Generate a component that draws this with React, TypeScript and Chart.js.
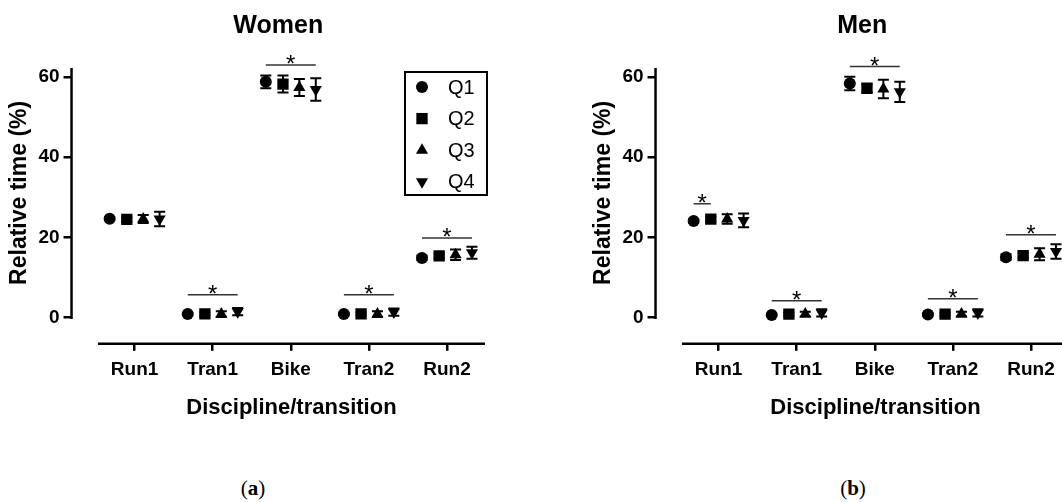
import React, { useEffect, useRef } from 'react';
import { Chart, registerables } from 'chart.js';
import { drawPoint } from 'chart.js/helpers';

Chart.register(...registerables);

// ---------- data ----------
const categories = ['Run1', 'Tran1', 'Bike', 'Tran2', 'Run2'];
const seriesLabels = ['Q1', 'Q2', 'Q3', 'Q4'];
const yTicks = [0, 20, 40, 60];
const xAxisTitle = 'Discipline/transition';
const yAxisTitle = 'Relative time (%)';

const womenQ1 = [24.7, 0.9, 58.8, 0.9, 14.9];
const womenQ1Err = [0.4, 0.3, 1.6, 0.3, 0.6];
const womenQ2 = [24.5, 0.95, 58.25, 0.95, 15.4];
const womenQ2Err = [0.5, 0.4, 2.1, 0.4, 0.5];
const womenQ3 = [24.6, 0.9, 57.4, 0.9, 15.7];
const womenQ3Err = [1.0, 0.7, 2.1, 0.7, 1.3];
const womenQ4 = [24.6, 1.5, 56.9, 1.4, 16.2];
const womenQ4Err = [1.8, 0.9, 2.8, 0.9, 1.5];

const menQ1 = [24.1, 0.7, 58.4, 0.8, 15.1];
const menQ1Err = [0.5, 0.3, 1.7, 0.3, 0.7];
const menQ2 = [24.6, 0.9, 57.2, 0.9, 15.5];
const menQ2Err = [0.6, 0.4, 1.0, 0.4, 0.6];
const menQ3 = [24.6, 0.9, 57.0, 0.9, 15.8];
const menQ3Err = [1.2, 0.6, 2.3, 0.6, 1.5];
const menQ4 = [24.25, 1.2, 56.3, 1.2, 16.5];
const menQ4Err = [1.7, 0.9, 2.5, 0.9, 1.8];

// significance bars: category index, first / last series spanned, height (%)
const womenSigCat = [1, 2, 3, 4];
const womenSigFrom = [0, 0, 0, 0];
const womenSigTo = [3, 3, 3, 3];
const womenSigY = [5.75, 63, 5.75, 19.9];

const menSigCat = [0, 1, 2, 3, 4];
const menSigFrom = [0, 0, 0, 0, 0];
const menSigTo = [1, 3, 3, 3, 3];
const menSigY = [28.4, 4.25, 62.6, 4.7, 20.7];

// ---------- styling ----------
const FONT = "'Liberation Sans', Arial, sans-serif";
const seriesOffsets = [-0.32, -0.1, 0.11, 0.32];
const pointStyles = ['circle', 'rect', 'triangle', 'triangle'];
const pointRotations = [0, 0, 0, 180];
const pointRadii = [6, 8, 7, 7];

const errorBarsPlugin = {
  id: 'errorBars',
  afterDatasetsDraw(chart: any) {
    const { ctx } = chart;
    const yScale = chart.scales.y;
    ctx.save();
    ctx.strokeStyle = '#000';
    ctx.lineWidth = 2;
    chart.data.datasets.forEach((ds: any, di: number) => {
      const meta = chart.getDatasetMeta(di);
      meta.data.forEach((el: any, i: number) => {
        const v = ds.data[i].y;
        const e = ds.errors[i];
        const yTop = yScale.getPixelForValue(v + e);
        const yBot = yScale.getPixelForValue(v - e);
        const cap = 5.5;
        ctx.beginPath();
        ctx.moveTo(el.x, yTop);
        ctx.lineTo(el.x, yBot);
        ctx.moveTo(el.x - cap, yTop);
        ctx.lineTo(el.x + cap, yTop);
        ctx.moveTo(el.x - cap, yBot);
        ctx.lineTo(el.x + cap, yBot);
        ctx.stroke();
      });
    });
    ctx.restore();
  },
};

const sigPlugin = {
  id: 'sigBars',
  afterDraw(chart: any, _args: any, opts: any) {
    const { ctx } = chart;
    const xs = chart.scales.x;
    const ys = chart.scales.y;
    const cats = opts.cat || [];
    ctx.save();
    for (let k = 0; k < cats.length; k++) {
      const c = cats[k] + 1;
      const x1 = xs.getPixelForValue(c + seriesOffsets[opts.from[k]]);
      const x2 = xs.getPixelForValue(c + seriesOffsets[opts.to[k]]);
      const y = ys.getPixelForValue(opts.y[k]);
      ctx.strokeStyle = '#333';
      ctx.lineWidth = 1.5;
      ctx.beginPath();
      ctx.moveTo(x1, y);
      ctx.lineTo(x2, y);
      ctx.stroke();
      ctx.fillStyle = '#000';
      ctx.font = `normal 24px ${FONT}`;
      ctx.textAlign = 'center';
      ctx.textBaseline = 'alphabetic';
      ctx.fillText('*', (x1 + x2) / 2, y + 7);
    }
    ctx.restore();
  },
};

const axisLinesPlugin = {
  id: 'axisLines',
  afterDraw(chart: any, _args: any, opts: any) {
    const { ctx, chartArea } = chart;
    const xs = chart.scales.x;
    const ys = chart.scales.y;
    const y0 = ys.getPixelForValue(0);
    const xStartPx = xs.getPixelForValue(opts.xStart);
    ctx.save();
    ctx.strokeStyle = '#000';
    ctx.lineWidth = 2.5;
    ctx.beginPath();
    ctx.moveTo(chartArea.left, y0 + 1.25);
    ctx.lineTo(chartArea.left, chartArea.top);
    ctx.stroke();
    ctx.beginPath();
    ctx.moveTo(xStartPx, chartArea.bottom);
    ctx.lineTo(chartArea.right, chartArea.bottom);
    ctx.stroke();
    ctx.fillStyle = '#000';
    ctx.textAlign = 'center';
    ctx.textBaseline = 'middle';
    // panel title, centred over the plot area
    ctx.font = `bold 25px ${FONT}`;
    ctx.fillText(opts.title, (chartArea.left + chartArea.right) / 2, opts.titleY);
    // x axis title, centred on the drawn x axis line
    ctx.font = `bold 22px ${FONT}`;
    ctx.fillText(opts.xTitle, (xStartPx + chartArea.right) / 2, opts.xTitleY);
    // y axis title, centred on the drawn y axis line
    ctx.translate(opts.yTitleX, (y0 + chartArea.top) / 2);
    ctx.rotate(-Math.PI / 2);
    ctx.font = `bold 23px ${FONT}`;
    ctx.fillText(opts.yTitle, 0, 0);
    ctx.restore();
  },
};

const boxLegendPlugin = {
  id: 'boxLegend',
  afterDraw(chart: any, _args: any, opts: any) {
    if (!opts.show) return;
    const { ctx, chartArea } = chart;
    const w = 82;
    const h = 123;
    const left = chartArea.right + 2 - w;
    const top = chartArea.top + 4;
    ctx.save();
    ctx.strokeStyle = '#000';
    ctx.lineWidth = 2;
    ctx.strokeRect(left, top, w, h);
    chart.data.datasets.forEach((ds: any, i: number) => {
      const cy = top + 15 + i * 31.6;
      ctx.fillStyle = '#000';
      ctx.strokeStyle = '#000';
      ctx.lineWidth = 0;
      drawPoint(ctx, { pointStyle: ds.pointStyle, rotation: ds.rotation, radius: ds.pointRadius, borderWidth: 0 }, left + 17, cy);
      ctx.fillStyle = '#000';
      ctx.font = `normal 20px ${FONT}`;
      ctx.textAlign = 'left';
      ctx.textBaseline = 'middle';
      ctx.fillText(ds.label, left + 43, cy + 1);
    });
    ctx.restore();
  },
};

function makeConfig(
  title: string,
  values: number[][],
  errs: number[][],
  sig: { cat: number[]; from: number[]; to: number[]; y: number[] },
  showLegend: boolean
): any {
  return {
    type: 'scatter',
    data: {
      datasets: seriesLabels.map((label, s) => ({
        label,
        data: values[s].map((v, i) => ({ x: i + 1 + seriesOffsets[s], y: v })),
        errors: errs[s],
        pointStyle: pointStyles[s],
        rotation: pointRotations[s],
        pointRadius: pointRadii[s],
        pointHoverRadius: pointRadii[s],
        pointBorderWidth: 0,
        borderWidth: 0,
        backgroundColor: '#000',
        borderColor: '#000',
        showLine: false,
      })),
    },
    options: {
      responsive: false,
      animation: false,
      events: [],
      layout: { padding: { left: 34.4, right: 73, top: 68, bottom: 52.4 } },
      plugins: {
        legend: { display: false },
        tooltip: { enabled: false },
        title: { display: false },
        sigBars: sig,
        axisLines: {
          xStart: 0.53,
          yTitle: yAxisTitle,
          yTitleX: 20,
          xTitle: xAxisTitle,
          xTitleY: 408,
          title,
          titleY: 26,
        },
        boxLegend: { show: showLegend },
      },
      scales: {
        x: {
          type: 'linear',
          min: 0.1923,
          max: 5.487,
          afterBuildTicks: (axis: any) => {
            axis.ticks = categories.map((_, i) => ({ value: i + 1 }));
          },
          ticks: {
            callback: (v: any) => categories[Math.round(v) - 1] ?? '',
            color: '#000',
            font: { family: FONT, size: 19, weight: 'bold' },
            padding: 8,
            maxRotation: 0,
            autoSkip: false,
          },
          grid: { display: true, drawOnChartArea: false, drawTicks: true, tickLength: 7, color: '#000', lineWidth: 2.5 },
          border: { display: false },
          title: { display: false },
        },
        y: {
          type: 'linear',
          min: -6.5,
          max: 62.25,
          afterBuildTicks: (axis: any) => {
            axis.ticks = yTicks.map((v) => ({ value: v }));
          },
          ticks: {
            color: '#000',
            font: { family: FONT, size: 19, weight: 'bold' },
            padding: 4,
          },
          grid: { display: true, drawOnChartArea: false, drawTicks: true, tickLength: 8, color: '#000', lineWidth: 2.5 },
          border: { display: false },
          title: { display: false },
        },
      },
    },
    plugins: [errorBarsPlugin, sigPlugin, axisLinesPlugin, boxLegendPlugin],
  };
}

function Panel(props: { config: any; left: number }) {
  const ref = useRef<HTMLCanvasElement | null>(null);
  useEffect(() => {
    if (!ref.current) return;
    const chart = new Chart(ref.current, props.config);
    return () => chart.destroy();
  }, []);
  return (
    <canvas
      ref={ref}
      width={558}
      height={442}
      style={{ position: 'absolute', left: props.left, top: 0, width: 558, height: 442 }}
    />
  );
}

const captionStyle: React.CSSProperties = {
  position: 'absolute',
  top: 475,
  width: 100,
  textAlign: 'center',
  fontFamily: "'Liberation Serif', 'DejaVu Serif', serif",
  fontSize: 21,
  lineHeight: '26px',
  color: '#000',
};

export default function App() {
  const womenConfig = makeConfig(
    'Women',
    [womenQ1, womenQ2, womenQ3, womenQ4],
    [womenQ1Err, womenQ2Err, womenQ3Err, womenQ4Err],
    { cat: womenSigCat, from: womenSigFrom, to: womenSigTo, y: womenSigY },
    true
  );
  const menConfig = makeConfig(
    'Men',
    [menQ1, menQ2, menQ3, menQ4],
    [menQ1Err, menQ2Err, menQ3Err, menQ4Err],
    { cat: menSigCat, from: menSigFrom, to: menSigTo, y: menSigY },
    false
  );
  return (
    <div
      style={{
        position: 'absolute',
        left: 0,
        top: 0,
        width: 1062,
        height: 502,
        overflow: 'hidden',
        background: '#fff',
      }}
    >
      <Panel config={womenConfig} left={0} />
      <Panel config={menConfig} left={584} />
      <div style={{ ...captionStyle, left: 203 }}>
        (<b>a</b>)
      </div>
      <div style={{ ...captionStyle, left: 803 }}>
        (<b>b</b>)
      </div>
    </div>
  );
}
